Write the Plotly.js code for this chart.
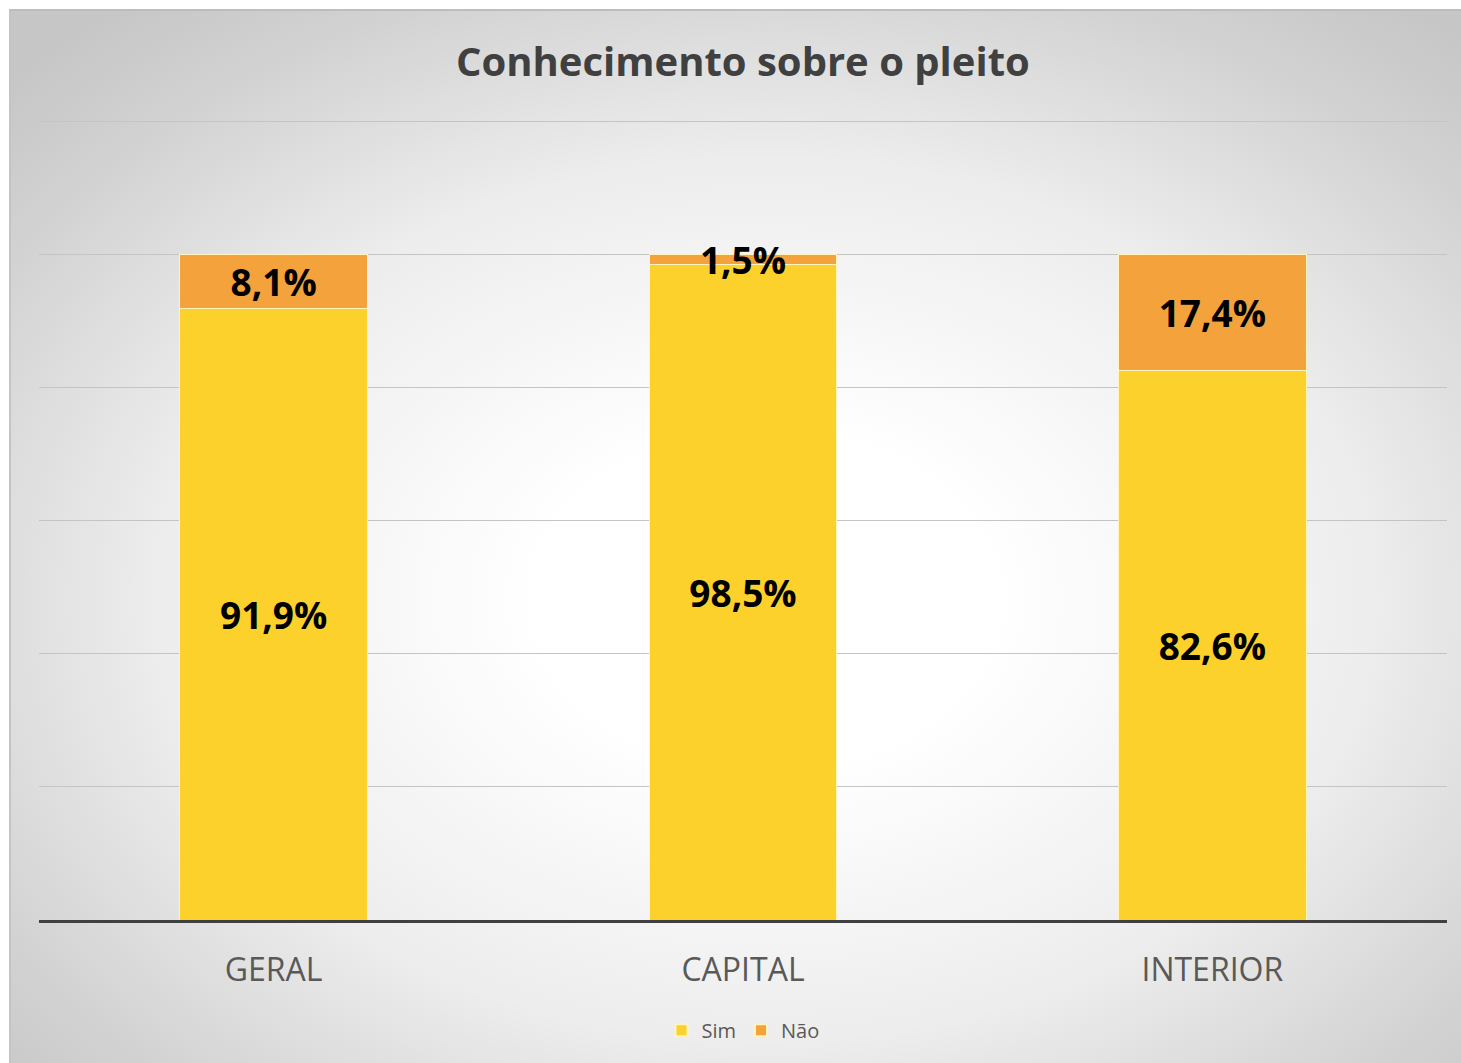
<!DOCTYPE html>
<html>
<head>
<meta charset="utf-8">
<script src="https://cdn.plot.ly/plotly-3.0.1.min.js"></script>
<style>
  html, body { margin: 0; padding: 0; background: #ffffff; }
  #frame {
    position: absolute; left: 9px; top: 9px; width: 1452px; height: 1054px;
    border-top: 2px solid #bdbdbd; border-left: 2px solid #c4c4c4; box-sizing: border-box;
    background: radial-gradient(ellipse 72% 72% at 52% 56%, #ffffff 0%, #ffffff 22%, #ededed 58%, #d2d2d2 85%, #c6c6c6 100%);
  }
  #chart { position: absolute; left: 0; top: 0; width: 1461px; height: 1063px; }
</style>
</head>
<body>
<div id="frame"></div>
<div id="chart"></div>
<script>
const categories = ["GERAL", "CAPITAL", "INTERIOR"];
const simValues = [0.919, 0.985, 0.826];
const naoValues = [0.081, 0.015, 0.174];
const seriesNames = ["Sim", "Não"];

const labelFont = {family: "Open Sans, sans-serif", size: 37, color: "#000000", weight: 700};

const traces = [
  {
    type: "bar", name: seriesNames[0], x: categories, y: simValues,
    marker: {color: "#FCD12B", line: {color: "#fff4c0", width: 1}},
    texttemplate: "%{y:.1%}", textposition: "inside", insidetextanchor: "middle",
    textangle: 0, constraintext: "none", textfont: labelFont, hoverinfo: "skip"
  },
  {
    type: "bar", name: seriesNames[1], x: categories, y: naoValues,
    marker: {color: "#F4A23C", line: {color: "#fff4c0", width: 1}},
    texttemplate: "%{y:.1%}", textposition: "inside", insidetextanchor: "middle",
    textangle: 0, constraintext: "none", textfont: labelFont, hoverinfo: "skip"
  }
];

const layout = {
  width: 1461, height: 1063,
  paper_bgcolor: "rgba(0,0,0,0)", plot_bgcolor: "rgba(0,0,0,0)",
  separators: ",.",
  barmode: "stack", bargap: 0.6,
  margin: {l: 39, r: 14, t: 115, b: 143},
  title: {
    text: "Conhecimento sobre o pleito",
    font: {family: "Open Sans, sans-serif", size: 40, color: "#404040", weight: 700},
    x: 0.5085, xanchor: "center", y: 0.942, yanchor: "middle"
  },
  xaxis: {
    type: "category", range: [-0.5, 2.5],
    showline: true, linecolor: "#404040", linewidth: 3,
    ticks: "outside", ticklen: 20, tickcolor: "rgba(0,0,0,0)",
    tickfont: {family: "Open Sans, sans-serif", size: 32, color: "#595959"},
    showgrid: false, zeroline: false
  },
  yaxis: {
    range: [0, 1.21], tickmode: "linear", dtick: 0.2, tick0: 0,
    showticklabels: false, showline: false, zeroline: false,
    showgrid: true, gridcolor: "#c4c4c4", gridwidth: 1
  },
  showlegend: true,
  legend: {
    orientation: "h", x: 0.5, xanchor: "center", y: -0.137, yanchor: "middle",
    font: {family: "Open Sans, sans-serif", size: 20, color: "#595959"},
    bgcolor: "rgba(0,0,0,0)", traceorder: "normal",
    itemwidth: 30, itemsizing: "constant"
  }
};

Plotly.newPlot("chart", traces, layout, {displayModeBar: false, staticPlot: true});
</script>
</body>
</html>
